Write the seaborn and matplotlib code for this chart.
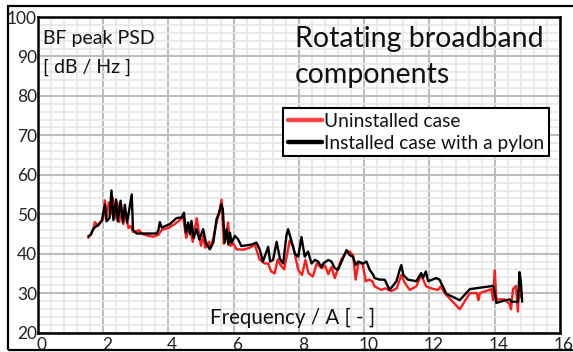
import numpy as np
import pandas as pd
import seaborn as sns
import matplotlib
matplotlib.use("Agg")
import matplotlib.pyplot as plt
from matplotlib.ticker import MultipleLocator
from matplotlib.lines import Line2D
import matplotlib.transforms as mtransforms

# ---------------- data ----------------
uninst_x = [1.55, 1.63, 1.70, 1.75, 1.85, 1.92, 2.00, 2.06, 2.10, 2.18, 2.25, 2.30, 2.37, 2.44,
            2.50, 2.56, 2.62, 2.70, 2.78, 2.85, 2.92, 3.00, 3.10, 3.20, 3.40, 3.55, 3.70, 3.80,
            4.00, 4.20, 4.35, 4.45, 4.55, 4.65, 4.75, 4.87, 5.00, 5.07, 5.13, 5.25, 5.30, 5.38,
            5.48, 5.55, 5.63, 5.70, 5.76, 5.83, 5.90, 6.00, 6.09, 6.30, 6.50, 6.65, 6.80, 6.95,
            7.06, 7.15, 7.26, 7.35, 7.45, 7.55, 7.72, 7.82, 7.98, 8.10, 8.20, 8.30, 8.43, 8.55,
            8.70, 8.80, 8.90, 9.00, 9.10, 9.20, 9.30, 9.46, 9.56, 9.66, 9.74, 9.82, 9.95, 10.05,
            10.15, 10.25, 10.32, 10.53, 10.65, 10.83, 11.00, 11.14, 11.25, 11.40, 11.60, 11.75,
            11.90, 12.05, 12.26, 12.35, 12.46, 12.93, 13.24, 13.45, 13.50, 13.55, 13.90, 13.95,
            14.00, 14.05, 14.30, 14.46, 14.50, 14.56, 14.65, 14.71, 14.75, 14.80]
uninst_y = [44.0, 45.0, 46.0, 48.0, 47.0, 48.0, 48.5, 53.5, 49.0, 53.0, 50.0, 54.2, 49.0, 53.0,
            48.0, 52.0, 47.5, 50.0, 46.5, 47.0, 45.5, 45.5, 46.0, 45.0, 44.5, 44.3, 44.8, 46.0,
            46.5, 47.5, 48.5, 49.5, 44.0, 47.0, 43.0, 49.0, 42.0, 44.5, 41.5, 43.0, 41.5, 44.0,
            48.0, 50.0, 53.7, 42.5, 44.0, 47.9, 42.0, 42.5, 41.1, 41.0, 41.5, 42.3, 38.5, 37.5,
            37.5, 35.5, 35.0, 38.5, 37.0, 36.0, 43.3, 42.0, 35.9, 34.6, 38.4, 35.0, 34.2, 37.5,
            36.3, 37.0, 34.8, 36.6, 33.8, 36.3, 38.5, 40.5, 40.5, 39.6, 33.4, 37.5, 37.5, 33.0,
            33.4, 33.0, 31.7, 30.8, 31.2, 30.5, 31.2, 34.6, 32.5, 30.8, 31.7, 34.6,
            31.7, 31.2, 30.8, 31.7, 30.0, 25.9, 30.0, 30.0, 28.2, 30.0, 31.0, 28.2,
            35.8, 28.4, 28.4, 27.2, 25.9, 31.0, 31.8, 25.3, 31.8, 29.0]

inst_x = [1.55, 1.63, 1.70, 1.85, 1.96, 2.06, 2.11, 2.20, 2.26, 2.32, 2.40, 2.45, 2.54, 2.61,
          2.67, 2.74, 2.88, 2.92, 3.03, 3.64, 3.70, 3.74, 3.80, 4.05, 4.25, 4.41, 4.48, 4.54,
          4.61, 4.67, 4.71, 4.78, 4.86, 4.95, 5.07, 5.15, 5.27, 5.38, 5.48, 5.56, 5.63, 5.67,
          5.73, 5.79, 5.84, 5.89, 5.94, 6.04, 6.14, 6.24, 6.55, 6.70, 6.80, 6.90, 7.06, 7.12,
          7.21, 7.32, 7.42, 7.52, 7.62, 7.67, 7.77, 7.88, 7.98, 8.08, 8.18, 8.28, 8.39, 8.49,
          8.59, 8.69, 8.75, 8.90, 9.00, 9.10, 9.20, 9.31, 9.46, 9.56, 9.66, 9.74, 9.82, 9.97,
          10.07, 10.17, 10.28, 10.32, 10.48, 10.63, 10.78, 10.99, 11.09, 11.14, 11.20, 11.34,
          11.60, 11.75, 11.80, 11.89, 11.96, 12.21, 12.31, 12.52, 12.93, 13.24, 13.94, 13.97,
          14.05, 14.25, 14.46, 14.51, 14.71, 14.76, 14.80, 14.84]
inst_y = [44.4, 44.8, 46.3, 47.3, 48.2, 52.4, 48.2, 49.0, 56.0, 48.5, 53.7, 48.2, 53.4, 48.0,
          52.4, 47.9, 55.0, 46.0, 45.1, 45.1, 46.0, 48.0, 46.6, 47.5, 49.0, 49.2, 50.4, 45.3,
          47.9, 44.9, 48.3, 44.0, 46.2, 43.6, 46.2, 42.8, 41.1, 42.8, 48.8, 50.4, 52.5, 51.3,
          42.8, 46.2, 42.3, 45.3, 42.8, 44.5, 43.6, 41.9, 42.3, 42.8, 41.1, 38.0, 41.7, 38.0,
          38.4, 43.0, 38.7, 37.5, 44.6, 46.2, 43.3, 40.0, 39.2, 44.2, 39.2, 40.5, 37.5, 38.4,
          38.0, 36.6, 37.5, 38.4, 38.0, 36.3, 35.9, 38.0, 40.9, 39.6, 39.2, 37.1, 38.0, 37.5,
          38.0, 35.9, 34.6, 33.8, 33.4, 33.4, 30.8, 33.0, 35.9, 37.1, 34.6, 33.4,
          33.0, 35.1, 33.8, 35.5, 33.0, 33.8, 33.4, 29.8, 28.2, 31.0, 31.8, 31.5,
          27.5, 28.0, 28.4, 27.8, 27.8, 35.3, 33.0, 27.8]

series_names = ["Uninstalled case", "Installed case with a pylon"]
x_ticks = [0, 2, 4, 6, 8, 10, 12, 14, 16]
y_ticks = [20, 30, 40, 50, 60, 70, 80, 90, 100]

df = pd.concat([
    pd.DataFrame({"x": uninst_x, "y": uninst_y, "case": series_names[0]}),
    pd.DataFrame({"x": inst_x, "y": inst_y, "case": series_names[1]}),
], ignore_index=True)

# ---------------- style ----------------
sns.set_theme(style="white")
plt.rcParams["font.family"] = ["Lato", "DejaVu Sans"]

W, H = 573, 352
fig = plt.figure(figsize=(W / 100, H / 100), dpi=100)
ax = fig.add_axes([37.7 / W, 1 - 332.5 / H, (560 - 37.7) / W, (332.5 - 17) / H])

colors = {series_names[0]: "#ff1a1a", series_names[1]: "#000000"}
sns.lineplot(data=df, x="x", y="y", hue="case", palette=colors, sort=False,
             estimator=None, linewidth=1.7, ax=ax, legend=False)

ax.set_xlim(x_ticks[0], x_ticks[-1])
ax.set_ylim(y_ticks[0], y_ticks[-1])
ax.set_xticks(x_ticks)
ax.set_yticks(y_ticks)
ax.set_xticklabels([str(t) for t in x_ticks])
ax.set_yticklabels([str(t) for t in y_ticks])
ax.xaxis.set_minor_locator(MultipleLocator(0.4))
ax.yaxis.set_minor_locator(MultipleLocator(2))
ax.grid(which="major", color="#bdbdbd", linewidth=1.5)
ax.grid(which="minor", color="#e6e6e6", linewidth=1.2)
ax.set_axisbelow(True)
ax.tick_params(which="both", length=0)
ax.tick_params(axis="y", pad=0.5, labelsize=12.5, colors="#222222")
ax.tick_params(axis="x", pad=3, labelsize=12.5, colors="#222222")
offset = mtransforms.ScaledTranslation(4 / 100, 0, fig.dpi_scale_trans)
for lab in ax.get_xticklabels():
    lab.set_transform(lab.get_transform() + offset)
for sp in ax.spines.values():
    sp.set_color("black")
    sp.set_linewidth(1.8)
ax.set_xlabel("")
ax.set_ylabel("")

def axy(py):
    return 1 - (py - 17) / 315.5

def axx(px):
    return (px - 37.7) / 522.3

ax.text(axx(43), axy(44), "BF peak PSD", transform=ax.transAxes, fontsize=14,
        va="baseline", ha="left", color="#111111")
ax.text(axx(43), axy(72.5), "[ dB / Hz ]", transform=ax.transAxes, fontsize=14,
        va="baseline", ha="left", color="#111111")
ax.text(axx(295), axy(47), "Rotating broadband", transform=ax.transAxes, fontsize=20.5,
        va="baseline", ha="left", color="#111111")
ax.text(axx(295), axy(83), "components", transform=ax.transAxes, fontsize=20.5,
        va="baseline", ha="left", color="#111111")
ax.text(axx(210), axy(324), "Frequency / A [ - ]", transform=ax.transAxes, fontsize=14.8,
        va="baseline", ha="left", color="#111111")

handles = [Line2D([], [], color="#ff4040", lw=3.2), Line2D([], [], color="black", lw=3.2)]
leg = ax.legend(handles, series_names, loc="upper left", bbox_to_anchor=(axx(283), axy(108)),
                borderaxespad=0, frameon=True, fancybox=False, fontsize=13.8,
                handlelength=1.8, handletextpad=0.1, borderpad=0.25, labelspacing=0.25,
                facecolor="white", framealpha=1)
leg.get_frame().set_edgecolor("black")
leg.get_frame().set_linewidth(1.5)
for t in leg.get_texts():
    t.set_color("#111111")

# outer border
fig.add_artist(plt.Rectangle((7.5 / W, 1 - 350 / H), (W + 10) / W, (350 - 5.5) / H,
                             transform=fig.transFigure, fill=False, edgecolor="black",
                             linewidth=1.6, clip_on=False))

fig.savefig("out.png", dpi=100)
